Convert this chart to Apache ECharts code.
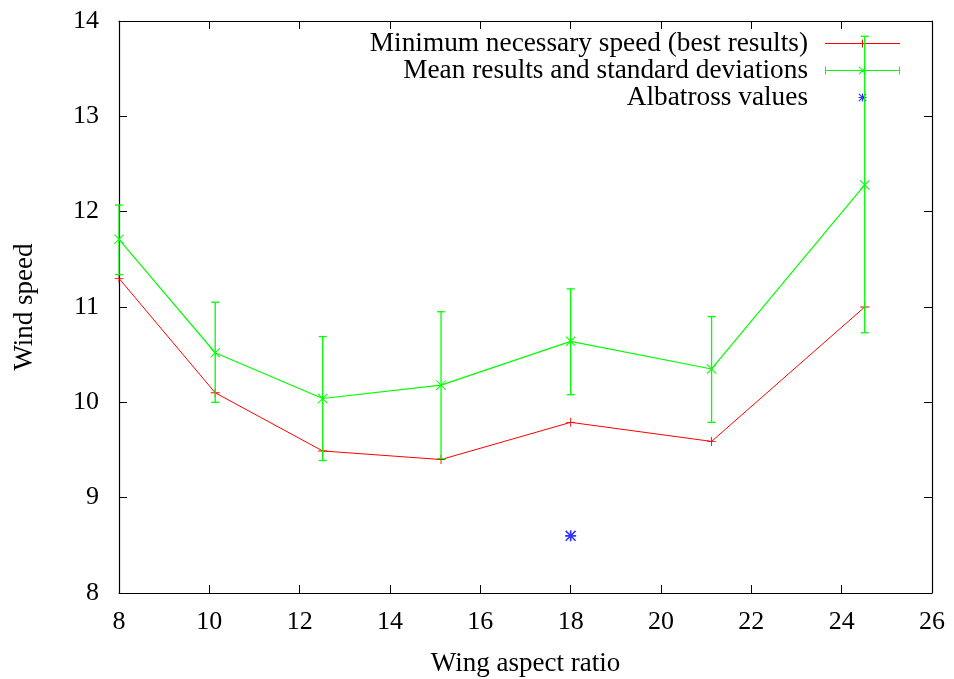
<!DOCTYPE html>
<html>
<head>
<meta charset="utf-8">
<script src="https://cdn.jsdelivr.net/npm/echarts@6/dist/echarts.min.js"></script>
<style>
  html, body { margin: 0; padding: 0; background: #fff; }
  #chart { width: 954px; height: 679px; }
</style>
</head>
<body>
<div id="chart"></div>
<script>
// values
const aspectRatio = [8, 10.13, 12.51, 15.13, 18.0, 21.12, 24.51];
const minSpeed = [11.3, 10.1, 9.49, 9.4, 9.79, 9.59, 11.0];
const meanSpeed = [11.71, 10.52, 10.04, 10.18, 10.64, 10.35, 12.28];
const stdLow = [11.34, 10.0, 9.39, 9.41, 10.08, 9.79, 10.73];
const stdHigh = [12.07, 11.05, 10.69, 10.95, 11.19, 10.9, 13.84];
const albatrossX = [18];
const albatrossY = [8.6];
const xTicks = { min: 8, max: 26, interval: 2 };
const yTicks = { min: 8, max: 14, interval: 1 };

const font = "Times";
const red = "#ff0000";
const green = "#00ff00";
const blue = "#0000ff";

const plusPath = "path://M0,4.5H10V5.5H0Z M4.5,0H5.5V10H4.5Z";
const crossPath = "path://M0,0.7L0.7,0L10,9.3L9.3,10Z M9.3,0L10,0.7L0.7,10L0,9.3Z";
const starPath = "path://M0,3.4H8V4.6H0Z M3.4,0H4.6V8H3.4Z M0,0.8L0.8,0L8,7.2L7.2,8Z M7.2,0L8,0.8L0.8,8L0,7.2Z";

// key samples (gnuplot style)
const keyRed = "path://M0,3.5H75V4.5H0Z M37,0H38V8H37Z";
const keyGreen = "path://M0,3.5H75V4.5H0Z M0,0H1V8H0Z M74,0H75V8H74Z M33.7,0.5L34.5,0L41.3,7.5L40.5,8Z M40.5,0L41.3,0.5L34.5,8L33.7,7.5Z";

const pairs = (xs, ys) => xs.map((x, i) => [x, ys[i]]);

const chart = echarts.init(document.getElementById("chart"));

const axisCommon = {
  axisLine: { show: true, lineStyle: { color: "#000", width: 1.2 } },
  axisTick: { show: true, inside: true, length: 8, lineStyle: { color: "#000", width: 1 } },
  splitLine: { show: false },
  minorTick: { show: false },
};

const options = {
  animation: false,
  backgroundColor: "#fff",
  textStyle: { fontFamily: font, color: "#000" },
  grid: { left: 119, right: 22, top: 21, bottom: 86, containLabel: false, outerBoundsMode: "none" },
  legend: {
    orient: "vertical",
    align: "right",
    right: 54,
    top: 30,
    padding: 0,
    itemGap: 0,
    itemWidth: 75,
    itemHeight: 8,
    symbolKeepAspect: true,
    textStyle: {
      fontFamily: font,
      fontSize: 27.3,
      color: "#000",
      lineHeight: 27,
      padding: [0, 12, 0, 0],
    },
    data: [
      { name: "Minimum necessary speed (best results)", icon: keyRed },
      { name: "Mean results and standard deviations", icon: keyGreen },
      { name: "Albatross values", icon: starPath },
    ],
  },
  xAxis: [
    {
      type: "value",
      ...xTicks,
      ...axisCommon,
      name: "Wing aspect ratio",
      nameLocation: "middle",
      nameGap: 57,
      nameTextStyle: { fontFamily: font, fontSize: 27, color: "#000" },
      axisLabel: { fontFamily: font, fontSize: 26, color: "#000", margin: 16 },
    },
    {
      type: "value",
      position: "top",
      ...xTicks,
      ...axisCommon,
      axisLabel: { show: false },
    },
  ],
  yAxis: [
    {
      type: "value",
      ...yTicks,
      ...axisCommon,
      name: "Wind speed",
      nameLocation: "middle",
      nameRotate: 90,
      nameGap: 81,
      nameTextStyle: { fontFamily: font, fontSize: 27, color: "#000" },
      axisLabel: { fontFamily: font, fontSize: 26, color: "#000", margin: 20 },
    },
    {
      type: "value",
      position: "right",
      ...yTicks,
      ...axisCommon,
      axisLabel: { show: false },
    },
  ],
  series: [
    {
      name: "Minimum necessary speed (best results)",
      type: "line",
      data: pairs(aspectRatio, minSpeed),
      symbol: plusPath,
      symbolSize: 9,
      itemStyle: { color: red },
      lineStyle: { color: red, width: 1 },
      z: 3,
    },
    {
      name: "Mean results and standard deviations",
      type: "line",
      data: pairs(aspectRatio, meanSpeed),
      symbol: crossPath,
      symbolSize: 10,
      itemStyle: { color: green },
      lineStyle: { color: green, width: 1.2 },
      z: 4,
    },
    {
      name: "std",
      type: "custom",
      data: aspectRatio.map((x, i) => [x, stdLow[i], stdHigh[i]]),
      renderItem: (params, api) => {
        const top = api.coord([api.value(0), api.value(2)]);
        const bot = api.coord([api.value(0), api.value(1)]);
        const w = 4;
        const style = { stroke: green, lineWidth: 1.3 };
        return {
          type: "group",
          children: [
            { type: "line", shape: { x1: top[0], y1: top[1], x2: bot[0], y2: bot[1] }, style },
            { type: "line", shape: { x1: top[0] - w, y1: top[1], x2: top[0] + w, y2: top[1] }, style },
            { type: "line", shape: { x1: bot[0] - w, y1: bot[1], x2: bot[0] + w, y2: bot[1] }, style },
          ],
        };
      },
      z: 4,
    },
    {
      name: "Albatross values",
      type: "scatter",
      data: pairs(albatrossX, albatrossY),
      symbol: starPath,
      symbolSize: 11,
      itemStyle: { color: blue },
      z: 5,
    },
  ],
};

chart.setOption(options);
</script>
</body>
</html>
